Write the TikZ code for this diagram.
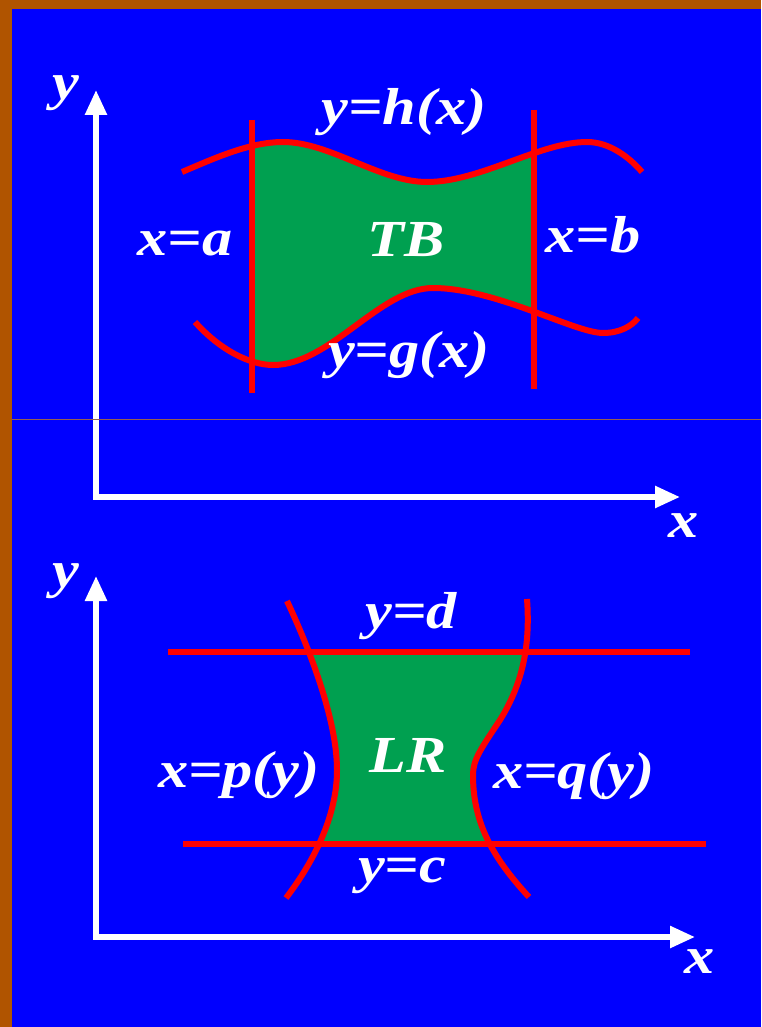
\documentclass[tikz,border=0pt]{standalone}
\usepackage{fontspec}
\setmainfont{Liberation Serif}
\usetikzlibrary{arrows.meta}
\definecolor{bgblue}{RGB}{0,0,255}
\definecolor{bordercol}{RGB}{176,84,0}
\definecolor{fillgreen}{RGB}{0,160,80}
\definecolor{curvered}{RGB}{255,0,0}
\definecolor{seamcol}{RGB}{150,95,80}
\newcommand{\lab}[1]{\scalebox{1.16}[1]{#1}}
\tikzset{
  lbl/.style={text=white, inner sep=0pt, anchor=base, font=\fontsize{52}{60}\selectfont\bfseries\itshape},
  axis/.style={white, line width=5.5pt, -{Triangle[length=25pt,width=21pt]}},
  redline/.style={curvered, line width=6pt},
  region/.style={fill=fillgreen},
}
\begin{document}
\begin{tikzpicture}[x=1pt,y=-1pt]
\useasboundingbox (0,0) rectangle (761,1027);
\fill[bordercol] (0,0) rectangle (761,1027);
\fill[bgblue] (12,9) rectangle (761,1027);

% ---------- top figure ----------
\begin{scope}
\clip (252,0) rectangle (534,1027);
\fill[region] (182,172) .. controls (215,158) and (250,142) .. (283,142)
  .. controls (330,142) and (380,182) .. (427,182)
  .. controls (480,182) and (540,142) .. (587,142)
  .. controls (610,142) and (630,158) .. (642,172)
  -- (638,318) .. controls (632,326) and (620,333) .. (603,333)
  .. controls (575,333) and (495,288) .. (433,288)
  .. controls (380,288) and (330,365) .. (273,365)
  .. controls (250,365) and (220,350) .. (195,322) -- cycle;
\end{scope}
\draw[redline] (182,172) .. controls (215,158) and (250,142) .. (283,142)
  .. controls (330,142) and (380,182) .. (427,182)
  .. controls (480,182) and (540,142) .. (587,142)
  .. controls (610,142) and (630,158) .. (642,172);
\draw[redline] (195,322) .. controls (220,350) and (250,365) .. (273,365)
  .. controls (330,365) and (380,288) .. (433,288)
  .. controls (495,288) and (575,333) .. (603,333)
  .. controls (620,333) and (632,326) .. (638,318);
\coordinate (aTop) at (252,120); \coordinate (aBot) at (252,393);
\coordinate (bTop) at (534,110); \coordinate (bBot) at (534,389);
\draw[redline] (aTop) -- (aBot);
\draw[redline] (bTop) -- (bBot);

\coordinate (o1) at (96,497);
\coordinate (y1) at (96,90);
\coordinate (x1) at (680,497);
\draw[axis] ([yshift=-2.75pt]o1) -- (y1);
\draw[axis] (o1) -- (x1);

% ---------- bottom figure ----------
\begin{scope}
\clip (0,652) rectangle (761,844);
\fill[region] (287,601) .. controls (310,650) and (337,720) .. (337,770)
  .. controls (337,815) and (315,860) .. (286,898)
  -- (529,897) .. controls (490,855) and (473,820) .. (473,775)
  .. controls (473,760) and (480,750) .. (500,720)
  .. controls (525,680) and (530,640) .. (527,599) -- cycle;
\end{scope}
\coordinate (dL) at (168,652); \coordinate (dR) at (690,652);
\coordinate (cL) at (183,844); \coordinate (cR) at (706,844);
\draw[redline] (dL) -- (dR);
\draw[redline] (cL) -- (cR);
\draw[redline] (287,601) .. controls (310,650) and (337,720) .. (337,770)
  .. controls (337,815) and (315,860) .. (286,898);
\draw[redline] (527,599) .. controls (530,640) and (525,680) .. (500,720)
  .. controls (480,750) and (473,760) .. (473,775)
  .. controls (473,820) and (490,855) .. (529,897);

\coordinate (o2) at (96,937);
\coordinate (y2) at (96,576);
\coordinate (x2) at (695,937);
\draw[axis] ([yshift=-2.75pt]o2) -- (y2);
\draw[axis] (o2) -- (x2);

% seam artefact
\draw[seamcol, line width=1pt] (12,419) -- (761,419);

% ---------- labels ----------
\node[lbl] (ly1) at (66,100) {\lab{y}};
\node[lbl] (lx1) at (684,537) {\lab{x}};
\node[lbl] (lh) at (404,125) {\lab{y=h(x)}};
\node[lbl] (la) at (185,255) {\lab{x=a}};
\node[lbl] (ltb) at (406,256) {\lab{TB}};
\node[lbl] (lb) at (593,252) {\lab{x=b}};
\node[lbl] (lg) at (409,367) {\lab{y=g(x)}};

\node[lbl] (ly2) at (66,587) {\lab{y}};
\node[lbl] (lx2) at (700,973) {\lab{x}};
\node[lbl] (ld) at (411,628) {\lab{y=d}};
\node[lbl] (llr) at (408,772) {\lab{LR}};
\node[lbl] (lp) at (239,787) {\lab{x=p(y)}};
\node[lbl] (lq) at (574,788) {\lab{x=q(y)}};
\node[lbl] (lc) at (402,882) {\lab{y=c}};
\end{tikzpicture}
\end{document}
